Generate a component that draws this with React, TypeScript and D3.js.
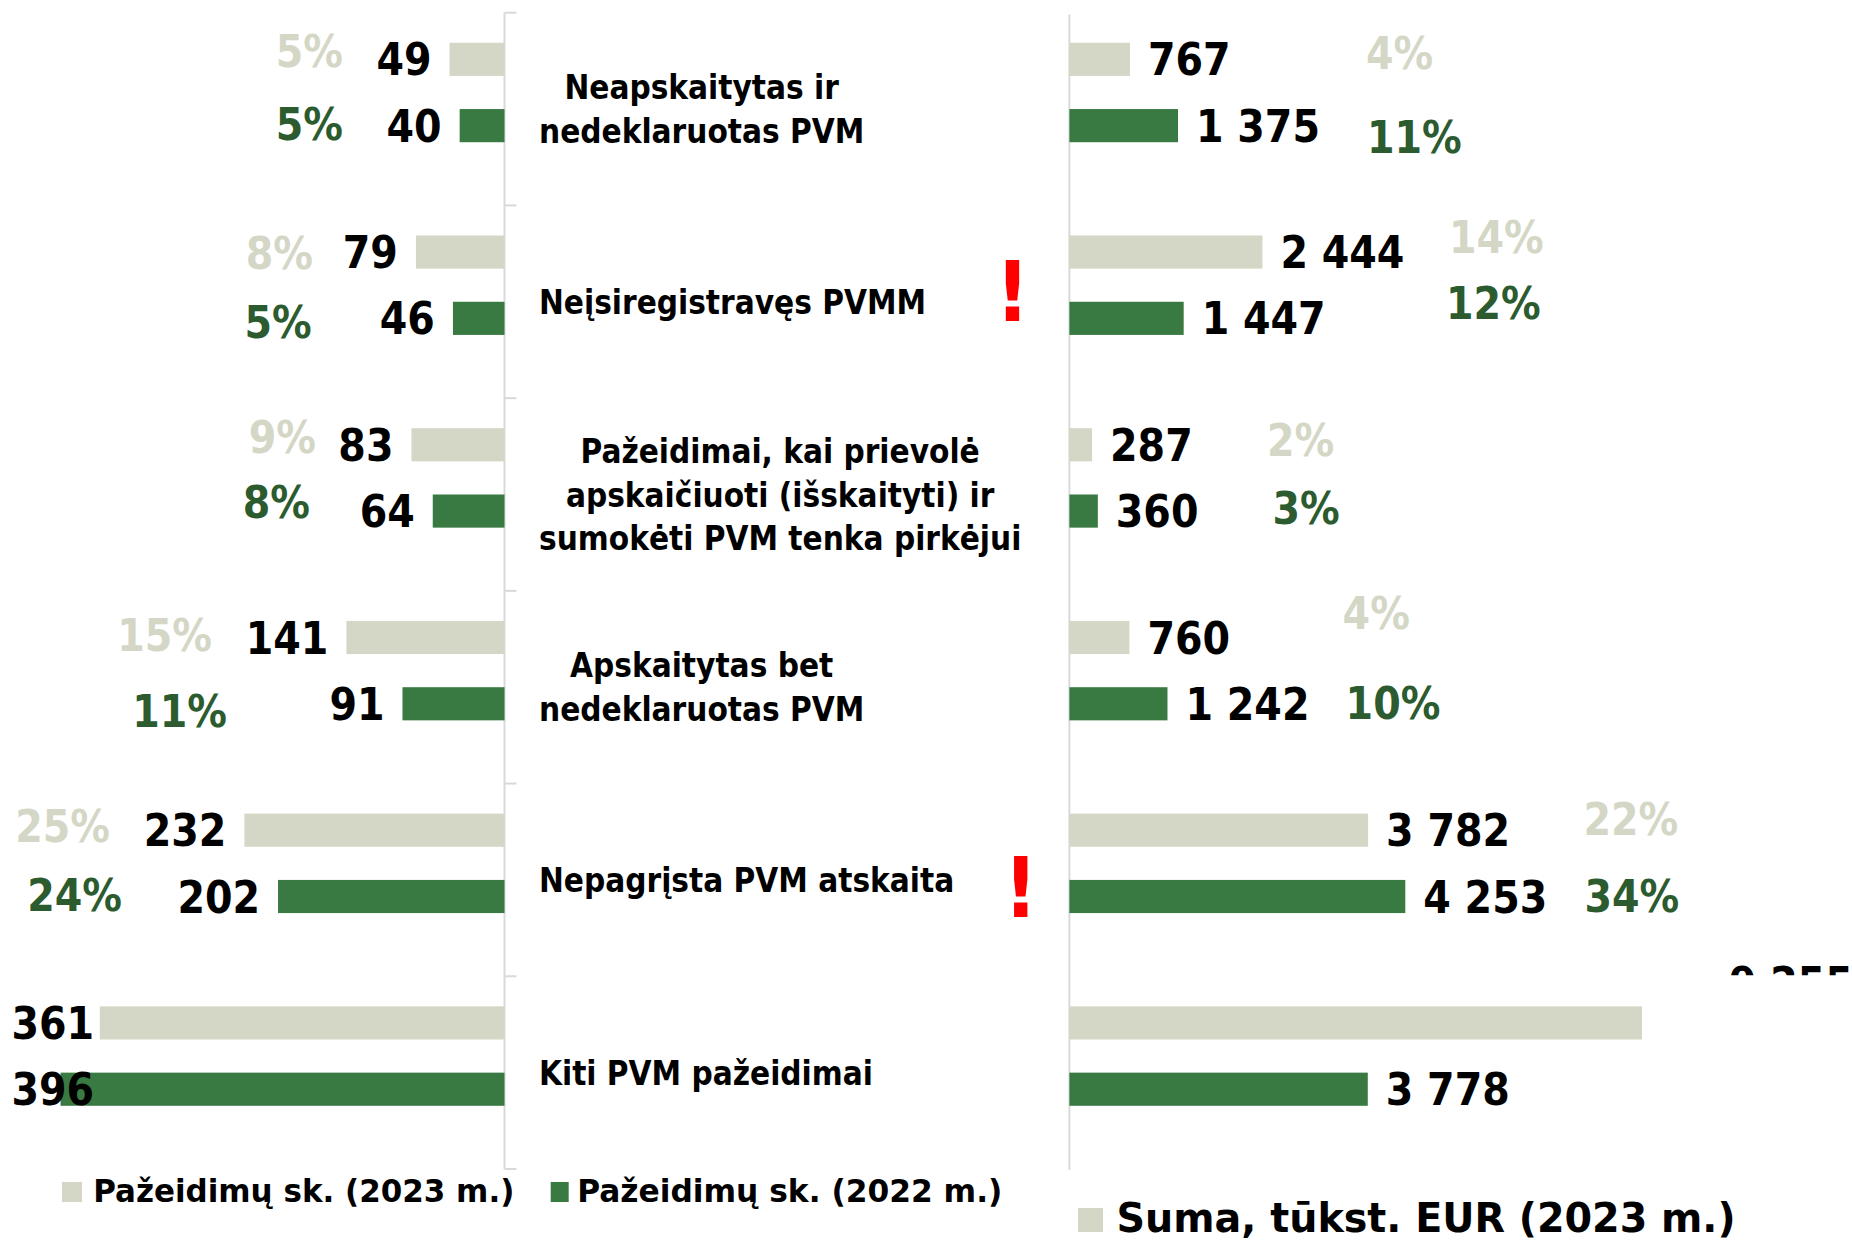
import React from 'react';
import * as d3 from 'd3';

// ---------- data ----------
const categories: string[][] = [
  ['Neapskaitytas ir', 'nedeklaruotas PVM'],
  ['Neįsiregistravęs PVMM'],
  ['Pažeidimai, kai prievolė', 'apskaičiuoti (išskaityti) ir', 'sumokėti PVM tenka pirkėjui'],
  ['Apskaitytas bet', 'nedeklaruotas PVM'],
  ['Nepagrįsta PVM atskaita'],
  ['Kiti PVM pažeidimai'],
];
const count2023 = [49, 79, 83, 141, 232, 361];
const count2022 = [40, 46, 64, 91, 202, 396];
const countShare2023: (number | null)[] = [5, 8, 9, 15, 25, null];
const countShare2022: (number | null)[] = [5, 5, 8, 11, 24, null];
const sum2023 = [767, 2444, 287, 760, 3782, 9255];
const sum2022 = [1375, 1447, 360, 1242, 4253, 3778];
const sumShare2023: (number | null)[] = [4, 14, 2, 4, 22, null];
const sumShare2022: (number | null)[] = [11, 12, 3, 10, 34, null];
const flagged = [false, true, false, false, true, false];
const legendCount = ['Pažeidimų sk. (2023 m.)', 'Pažeidimų sk. (2022 m.)'];
const legendSum = 'Suma, tūkst. EUR (2023 m.)';

// ---------- style / layout ----------
const W = 1852;
const H = 1246;
const FONT = "'DejaVu Sans Condensed', 'DejaVu Sans', sans-serif";
const LIGHT = '#d4d7c5';
const GREEN = '#387a41';
const PCT_GREEN = '#2b5b2e';
const AXIS = '#d9d9d9';
const NUM_SIZE = 44;
const CAT_SIZE = 33;
const CAP = 0.729;

// manual placement of the share annotations (x anchor, dy from bar top)
const leftShareLayout = {
  light: [[343, -7.7], [313, 1.7], [316, -7], [212, -2], [110, -3.3]],
  green: [[343, -1], [311.6, 4.3], [310, -8.7], [227, 7.7], [122, -1]],
};
const rightShareLayout = {
  light: [[1366, -5.7], [1449, -14.6], [1267, -3.8], [1342.6, -23.7], [1583.5, -11]],
  green: [[1367, 11.5], [1446, -14.5], [1272.5, -3], [1345.6, 0], [1584.5, 0]],
};

const fmt = (v: number) => d3.format(',')(v).replace(/,/g, ' ');

let _ctx: CanvasRenderingContext2D | null = null;
function measure(text: string, size: number, weight = 'bold') {
  if (!_ctx) _ctx = document.createElement('canvas').getContext('2d');
  _ctx!.font = `${weight} ${size}px ${FONT}`;
  return _ctx!.measureText(text).width;
}

export default function App() {
  const idx = d3.range(categories.length);
  const y = d3.scaleBand<number>().domain(idx).range([12.7, 1169]);
  const bw = y.bandwidth();
  const barH = 0.172 * bw;
  const lightTop = (i: number) => (y(i) as number) + 0.156 * bw;
  const greenTop = (i: number) => (y(i) as number) + 0.5 * bw;

  const xL = d3.scaleLinear().domain([0, 450]).range([504.5, 0]);
  const xR = d3.scaleLinear().domain([0, 7250]).range([1069.4, 1642]).clamp(true);
  const xRmax = xR.range()[1];

  const capN = CAP * NUM_SIZE;
  const midBase = (top: number) => top + barH / 2 + capN / 2;

  const leftLabel = (v: number, top: number, key: string) => {
    const end = xL(v) - 18;
    const w = measure(String(v), NUM_SIZE);
    const clampStart = end - w < 11.4;
    return (
      <text key={key} x={clampStart ? 11.4 : end} y={midBase(top)}
        textAnchor={clampStart ? 'start' : 'end'} fontFamily={FONT} fontWeight="bold"
        fontSize={NUM_SIZE} fill="#000">{v}</text>
    );
  };

  const rightLabel = (v: number, top: number, key: string) => {
    const over = v > xR.domain()[1];
    if (over) {
      return (
        <text key={key} x={xRmax + 87} y={top - 39.3 + capN} fontFamily={FONT} fontWeight="bold"
          fontSize={NUM_SIZE} fill="#000" clipPath="url(#clipOver)">{fmt(v)}</text>
      );
    }
    return (
      <text key={key} x={xR(v) + 18} y={midBase(top)} fontFamily={FONT} fontWeight="bold"
        fontSize={NUM_SIZE} fill="#000">{fmt(v)}</text>
    );
  };

  const lastLightTop = lightTop(categories.length - 1);

  return (
    <svg width={W} height={H} viewBox={`0 0 ${W} ${H}`}
      style={{ position: 'absolute', left: 0, top: 0, display: 'block', background: '#fff' }}>
      <defs>
        <clipPath id="clipOver">
          <rect x={0} y={0} width={W} height={lastLightTop - 31} />
        </clipPath>
      </defs>
      <rect x={0} y={0} width={W} height={H} fill="#fff" />

      {/* left axis and ticks */}
      <line x1={xL(0)} x2={xL(0)} y1={y.range()[0]} y2={y.range()[1]} stroke={AXIS} strokeWidth={2} />
      {[...idx.map((i) => y(i) as number), y.range()[1]].map((t, k) => (
        <line key={'t' + k} x1={xL(0)} x2={xL(0) + 12} y1={t} y2={t} stroke={AXIS} strokeWidth={2} />
      ))}
      {/* right axis */}
      <line x1={xR(0)} x2={xR(0)} y1={14.5} y2={y.range()[1] + 1} stroke={AXIS} strokeWidth={2} />

      {/* left bars */}
      {idx.map((i) => (
        <g key={'lb' + i}>
          <rect x={xL(count2023[i])} y={lightTop(i)} width={xL(0) - xL(count2023[i])} height={barH} fill={LIGHT} />
          <rect x={xL(count2022[i])} y={greenTop(i)} width={xL(0) - xL(count2022[i])} height={barH} fill={GREEN} />
        </g>
      ))}
      {idx.map((i) => leftLabel(count2023[i], lightTop(i), 'll' + i))}
      {idx.map((i) => leftLabel(count2022[i], greenTop(i), 'lg' + i))}

      {/* right bars */}
      {idx.map((i) => (
        <g key={'rb' + i}>
          <rect x={xR(0)} y={lightTop(i)} width={xR(sum2023[i]) - xR(0)} height={barH} fill={LIGHT} />
          <rect x={xR(0)} y={greenTop(i)} width={xR(sum2022[i]) - xR(0)} height={barH} fill={GREEN} />
        </g>
      ))}
      {idx.map((i) => rightLabel(sum2023[i], lightTop(i), 'rl' + i))}
      {idx.map((i) => rightLabel(sum2022[i], greenTop(i), 'rg' + i))}

      {/* share annotations */}
      {idx.map((i) => countShare2023[i] == null ? null : (
        <text key={'cs23' + i} x={leftShareLayout.light[i][0]} y={lightTop(i) + leftShareLayout.light[i][1] + capN}
          textAnchor="end" fontFamily={FONT} fontWeight="bold" fontSize={NUM_SIZE} fill={LIGHT}>{countShare2023[i]}%</text>
      ))}
      {idx.map((i) => countShare2022[i] == null ? null : (
        <text key={'cs22' + i} x={leftShareLayout.green[i][0]} y={greenTop(i) + leftShareLayout.green[i][1] + capN}
          textAnchor="end" fontFamily={FONT} fontWeight="bold" fontSize={NUM_SIZE} fill={PCT_GREEN}>{countShare2022[i]}%</text>
      ))}
      {idx.map((i) => sumShare2023[i] == null ? null : (
        <text key={'ss23' + i} x={rightShareLayout.light[i][0]} y={lightTop(i) + rightShareLayout.light[i][1] + capN}
          fontFamily={FONT} fontWeight="bold" fontSize={NUM_SIZE} fill={LIGHT}>{sumShare2023[i]}%</text>
      ))}
      {idx.map((i) => sumShare2022[i] == null ? null : (
        <text key={'ss22' + i} x={rightShareLayout.green[i][0]} y={greenTop(i) + rightShareLayout.green[i][1] + capN}
          fontFamily={FONT} fontWeight="bold" fontSize={NUM_SIZE} fill={PCT_GREEN}>{sumShare2022[i]}%</text>
      ))}

      {/* category labels */}
      {idx.map((i) => {
        const lines = categories[i];
        const blockW = Math.max(...lines.map((l) => measure(l, CAT_SIZE)));
        const cx = 539 + blockW / 2;
        const LH = 43.5;
        const capC = CAP * CAT_SIZE;
        const center = (y(i) as number) + bw / 2;
        const first = center - ((lines.length - 1) * LH + capC) / 2 + capC;
        return (
          <text key={'cat' + i} fontFamily={FONT} fontWeight="bold" fontSize={CAT_SIZE} fill="#000" textAnchor="middle">
            {lines.map((l, k) => (
              <tspan key={k} x={cx} y={first + k * LH}>{l}</tspan>
            ))}
          </text>
        );
      })}

      {/* red flags */}
      {idx.map((i) => !flagged[i] ? null : (
        <text key={'f' + i} x={i === 1 ? 1012.5 : 1020.7} y={(y(i) as number) + bw / 2 + (i === 1 ? 19 : 36.6)}
          textAnchor="middle" fontFamily={FONT} fontWeight="bold" fontSize={84} fill="#ff0000">!</text>
      ))}

      {/* legends */}
      <rect x={62} y={1182} width={20} height={20} fill={LIGHT} />
      <text x={93.3} y={1202} fontFamily={FONT} fontWeight="bold" fontSize={32} fill="#000"
        textLength={421} lengthAdjust="spacingAndGlyphs">{legendCount[0]}</text>
      <rect x={550.7} y={1182} width={18} height={20} fill={GREEN} />
      <text x={577.3} y={1202} fontFamily={FONT} fontWeight="bold" fontSize={32} fill="#000"
        textLength={425} lengthAdjust="spacingAndGlyphs">{legendCount[1]}</text>
      <rect x={1078} y={1208} width={25} height={24} fill={LIGHT} />
      <text x={1116.5} y={1232} fontFamily={FONT} fontWeight="bold" fontSize={40} fill="#000"
        textLength={619} lengthAdjust="spacingAndGlyphs">{legendSum}</text>
    </svg>
  );
}
